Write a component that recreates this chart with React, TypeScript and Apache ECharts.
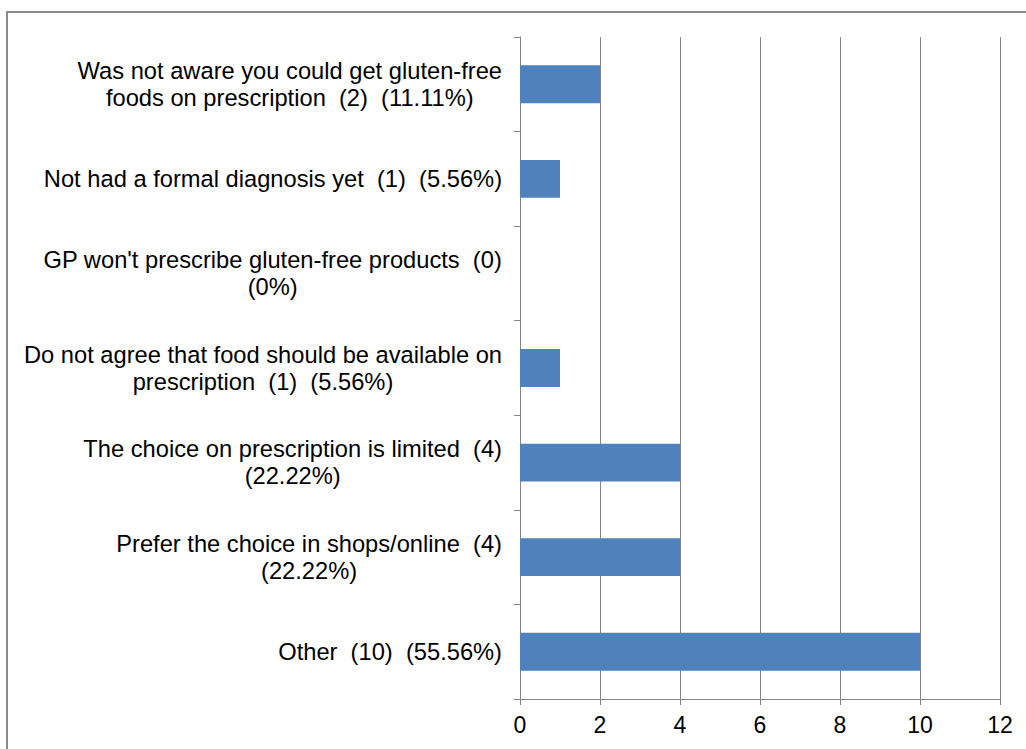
import React, { useEffect, useRef } from "react";
import * as echarts from "echarts";

// Reasons for not getting gluten-free food on prescription.
// A "\n" inside a reason marks where its label wraps.
const reasons = [
  "Was not aware you could get gluten-free\nfoods on prescription",
  "Not had a formal diagnosis yet",
  "GP won't prescribe gluten-free products",
  "Do not agree that food should be available on\nprescription",
  "The choice on prescription is limited",
  "Prefer the choice in shops/online",
  "Other",
];
const counts = [2, 1, 0, 1, 4, 4, 10];
const percents = ["11.11%", "5.56%", "0%", "5.56%", "22.22%", "22.22%", "55.56%"];
// Whether the percentage goes on a line of its own
const pctOnNewLine = [false, false, true, false, true, true, false];

const xTicks = { min: 0, max: 12, interval: 2 };

const FONT = '"Liberation Sans", Arial, sans-serif';
const AXIS_GREY = "#868686";
const BAR_BLUE = "#4F81BD";

const labels = reasons.map(
  (r, i) => `${r}  (${counts[i]})${pctOnNewLine[i] ? "\n" : "  "}(${percents[i]})`
);

export default function App() {
  const ref = useRef<HTMLDivElement>(null);

  useEffect(() => {
    if (!ref.current) return;
    const chart = echarts.init(ref.current, undefined, { renderer: "svg" });
    chart.setOption({
      animation: false,
      backgroundColor: "#ffffff",
      grid: { left: 520, right: 26, top: 37, bottom: 50, containLabel: false },
      graphic: [
        {
          type: "rect",
          shape: { x: 7, y: 12, width: 1200, height: 1000 },
          style: { fill: "none", stroke: "#8a8a8a", lineWidth: 2 },
          silent: true,
        },
      ],
      xAxis: {
        type: "value",
        min: xTicks.min,
        max: xTicks.max,
        interval: xTicks.interval,
        axisLine: { show: true, lineStyle: { color: AXIS_GREY, width: 1 } },
        axisTick: { show: true, length: 6, lineStyle: { color: AXIS_GREY } },
        splitLine: { show: true, lineStyle: { color: AXIS_GREY, width: 1 } },
        axisLabel: { color: "#000", fontSize: 23, fontFamily: FONT, margin: 14 },
      },
      yAxis: {
        type: "category",
        inverse: true,
        data: labels,
        axisLine: { show: true, lineStyle: { color: AXIS_GREY, width: 1 } },
        axisTick: { show: true, length: 6, interval: 0, lineStyle: { color: AXIS_GREY } },
        splitLine: { show: false },
        axisLabel: {
          interval: 0,
          margin: 18,
          align: "right",
          verticalAlign: "middle",
          formatter: (v: string) => `{c|${v}}`,
          rich: {
            c: {
              align: "center",
              fontSize: 23.7,
              lineHeight: 27,
              fontFamily: FONT,
              color: "#000",
            },
          },
        },
      },
      series: [
        {
          type: "bar",
          data: counts,
          barWidth: "40%",
          itemStyle: { color: BAR_BLUE },
        },
      ],
    });
    return () => chart.dispose();
  }, []);

  return (
    <div
      ref={ref}
      style={{ position: "absolute", left: 0, top: 0, width: 1026, height: 749 }}
    />
  );
}
